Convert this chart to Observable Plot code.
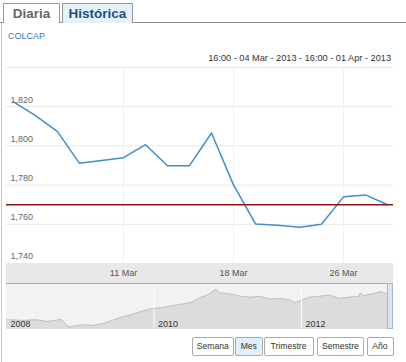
<!DOCTYPE html>
<html><head><meta charset="utf-8">
<script src="https://cdn.jsdelivr.net/npm/d3@7"></script>
<script src="https://cdn.jsdelivr.net/npm/@observablehq/plot@0.6"></script>
<style>
body{margin:0;background:#fff;font-family:"Liberation Sans",Arial,sans-serif;}
#wrap{position:relative;width:406px;height:362px;overflow:hidden;background:#fff;}
.abs{position:absolute;}
.tab{position:absolute;top:3px;height:20px;border:1px solid #999;border-bottom:none;font-weight:bold;font-size:13.5px;line-height:20px;box-sizing:border-box;text-align:center;}
.btn{position:absolute;top:337px;height:19px;border:1px solid #aaa;border-radius:2px;box-sizing:border-box;font-size:8.6px;line-height:17px;text-align:center;color:#333;background:#fff;}
svg{position:absolute;left:0;}
</style>
</head><body>
<div id="wrap">
  <div class="abs" style="left:0;top:22px;width:406px;height:1px;background:#8f8f8f"></div>
  <div class="abs" style="left:1px;top:23px;width:1px;height:339px;background:#c8c8c8"></div>
  <div class="tab" style="left:3px;width:57px;background:#fff;color:#666">Diaria</div>
  <div class="tab" style="left:62px;width:71px;background:#e6f2fb;color:#1b4d8c">Histórica</div>
  <div class="abs" style="left:8px;top:31px;font-size:9px;color:#2a7ab9">COLCAP</div>
  <div class="abs" id="range" style="right:15px;top:53px;font-size:9.2px;color:#333;white-space:nowrap"></div>
  <div class="abs" style="left:6px;top:263px;width:387px;height:20px;background:#e8e8e8"></div>
  <div class="abs" style="left:6px;top:283px;width:387px;height:46px;background:#f2f2f2"></div>
  <div id="main"></div>
  <div id="nav"></div>
  <div class="abs" style="left:6px;top:283px;width:387px;height:1px;background:#ababab"></div>
  <div class="abs" style="left:387px;top:283px;width:6px;height:46px;background:#d9e5f2;border:1px solid #a9b9cc;box-sizing:border-box"></div>
  <div id="buttons"></div>
</div>
<script>
// Main series (trading days, ordinal axis)
const dates = ["04 Mar","05 Mar","06 Mar","07 Mar","08 Mar","11 Mar","12 Mar","13 Mar","14 Mar","15 Mar","18 Mar","19 Mar","20 Mar","21 Mar","22 Mar","26 Mar","27 Mar","01 Apr"];
const values = [1822.5,1815.4,1807.3,1791.1,1792.5,1794.0,1800.6,1789.9,1789.9,1806.6,1780.1,1760.2,1759.5,1758.5,1760.0,1774.0,1775.0,1770.0];
const refValue = 1770;
const xTicks = ["11 Mar","18 Mar","26 Mar"];
const yTicks = [1740,1760,1780,1800,1820,1840];
const yLabels = [1740,1760,1780,1800,1820];
const rangeText = "16:00 - 04 Mar - 2013 - 16:00 - 01 Apr - 2013";

// Navigator series
const navDates = ["2008-01-02","2008-03-25","2008-05-28","2008-07-16","2008-09-03","2008-09-27","2008-10-13","2008-11-07","2008-12-01","2009-01-12","2009-03-01","2009-04-19","2009-06-07","2009-07-26","2009-09-13","2009-11-01","2009-12-20","2010-02-07","2010-03-28","2010-05-15","2010-07-03","2010-08-21","2010-09-23","2010-11-02","2010-11-27","2011-01-15","2011-03-05","2011-04-22","2011-06-10","2011-07-29","2011-09-16","2011-11-03","2011-11-28","2011-12-22","2012-02-09","2012-03-29","2012-05-17","2012-07-05","2012-08-23","2012-10-11","2012-10-19","2012-11-04","2012-12-15","2013-02-02","2013-02-26","2013-04-01"];
const navValues = [956,935,956,902,935,978,870,720,763,795,774,827,935,1042,1117,1224,1299,1332,1385,1439,1493,1654,1729,1900,1793,1761,1686,1654,1686,1600,1621,1578,1493,1546,1654,1686,1729,1621,1654,1686,1793,1707,1761,1836,1761,1770];
const navYears = ["2008","2010","2012"];
const navGridYears = ["2010","2012"];

const buttons = ["Semana","Mes","Trimestre","Semestre","Año"];
const activeButton = "Mes";

document.getElementById("range").textContent = rangeText;

const rows = dates.map((d, i) => ({date: d, value: values[i]}));
const fmt = d3.format(",");

const main = Plot.plot({
  width: 406, height: 228,
  marginLeft: 6, marginRight: 13, marginTop: 12, marginBottom: 20,
  style: {background: "transparent", fontFamily: "Liberation Sans, Arial, sans-serif", fontSize: "9px"},
  x: {type: "point", domain: dates, padding: 0},
  y: {domain: [1740, 1840], axis: null},
  marks: [
    Plot.gridY(yTicks, {stroke: "#e8e8e8", strokeOpacity: 1}),
    Plot.gridX(xTicks, {stroke: "#f0f0f0", strokeOpacity: 1}),
    Plot.line(rows, {x: "date", y: "value", stroke: "#3f8fca", strokeWidth: 1.5}),
    Plot.ruleY([refValue], {stroke: "#8e1414", strokeWidth: 1.5}),
    Plot.text(yLabels, {y: d => d, text: d => fmt(d), frameAnchor: "left", textAnchor: "start", dx: 4, dy: -7, fill: "#666"}),
    Plot.axisX(xTicks, {tickSize: 0, tickPadding: 6, fill: "#555", label: null})
  ]
});
main.style.top = "55px";
document.getElementById("main").appendChild(main);

const navRows = navDates.map((d, i) => ({date: new Date(d), value: navValues[i]}));
const nav = Plot.plot({
  width: 406, height: 47,
  marginLeft: 6, marginRight: 13, marginTop: 0, marginBottom: 1,
  style: {background: "transparent", fontFamily: "Liberation Sans, Arial, sans-serif", fontSize: "9px"},
  x: {type: "utc", domain: [new Date("2008-01-01"), new Date("2013-04-01")], axis: null},
  y: {domain: [650, 1900], insetTop: 6, axis: null},
  marks: [
    Plot.areaY(navRows, {x: "date", y: "value", fill: "#dcdcdc", clip: true}),
    Plot.lineY(navRows, {x: "date", y: "value", stroke: "#c2c2c2", strokeWidth: 1, clip: true}),
    Plot.ruleX(navGridYears, {x: d => new Date(d + "-01-01"), stroke: "#fff", strokeOpacity: 0.9}),
    Plot.text(navYears, {x: d => new Date(d + "-01-01"), text: d => d, frameAnchor: "bottom", textAnchor: "start", dx: 4, dy: -3, fill: "#333", clip: false})
  ]
});
nav.style.top = "283px";
document.getElementById("nav").appendChild(nav);

const btnPos = [[191.5,42.5],[235,27.5],[263.5,50],[317,47],[366.5,27]];
const bc = document.getElementById("buttons");
buttons.forEach((b, i) => {
  const el = document.createElement("div");
  el.className = "btn";
  el.style.left = btnPos[i][0] + "px";
  el.style.width = btnPos[i][1] + "px";
  if (b === activeButton) el.style.background = "#dff0fb";
  el.textContent = b;
  bc.appendChild(el);
});
</script>
</body></html>
